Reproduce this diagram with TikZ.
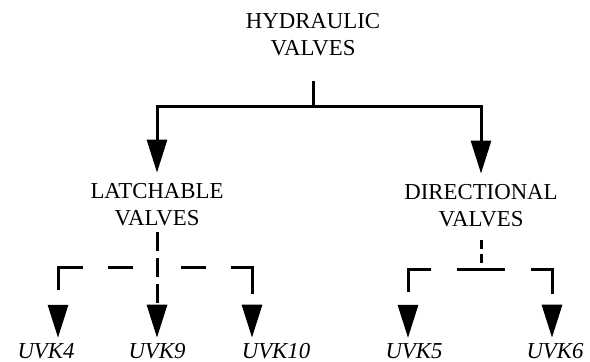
\documentclass[tikz,border=0pt]{standalone}
\usepackage{fontspec}
\setmainfont{Liberation Serif}
\usetikzlibrary{arrows.meta, calc}

\begin{document}
\begin{tikzpicture}[x=1pt, y=-1pt,
    every node/.style={inner sep=0pt, align=center, font=\fontsize{22.8}{27}\selectfont},
    leaf/.style={anchor=base, font=\fontsize{22.8}{27}\selectfont\itshape},
    wire/.style={line width=3pt},
    tip/.style={-{Triangle[length=33pt, width=20pt]}, shorten >=5pt},
    latbranch/.style={dash pattern=on 25pt off 25pt on 48pt off 100pt, dash phase=174pt},
    dirbranch/.style={dash pattern=on 24pt off 26pt on 46pt off 100pt}]

    \useasboundingbox (0,0) rectangle (590,362);

    % 三个分类标题
    \node (hyd) at (313,35)  {HYDRAULIC\\VALVES};
    \node (lat) at (157,205) {LATCHABLE\\VALVES};
    \node (dir) at (481,206) {DIRECTIONAL\\VALVES};

    % 底层阀门编号
    \node[leaf] (uvk4)  at (46,358)  {UVK4};
    \node[leaf] (uvk9)  at (157,358) {UVK9};
    \node[leaf] (uvk10) at (276,358) {UVK10};
    \node[leaf] (uvk5)  at (414,358) {UVK5};
    \node[leaf] (uvk6)  at (555,358) {UVK6};

    % 分支点
    \coordinate (top) at (313,106);
    \coordinate (lj)  at (157,267);
    \coordinate (c4)  at (58,267);
    \coordinate (c10) at (252,267);
    \coordinate (dj)  at (481,269);
    \coordinate (c5)  at (408,269);
    \coordinate (c6)  at (552,269);

    % 1. 顶层实线
    \draw[wire, shorten <=25pt] (hyd) -- (top);
    \draw[wire, tip, shorten >=11pt] (top) -| (lat);
    \draw[wire, tip, shorten >=11pt] (top) -| (dir);

    % 2. LATCHABLE 虚线分支
    \draw[wire, tip, dash pattern=on 19pt off 7pt, shorten <=6pt] (lat) -- (uvk9);
    \draw[wire, tip, latbranch] (lj) -- (c4) -- (c4 |- uvk4.north);
    \draw[wire, tip, latbranch] (lj) -- (c10) -- (c10 |- uvk10.north);

    % 3. DIRECTIONAL 虚线分支
    \draw[wire, dash pattern=on 9pt off 5pt, shorten <=13pt] (dir) -- (dj);
    \draw[wire, tip, dirbranch] (dj) -- (c5) -- (c5 |- uvk5.north);
    \draw[wire, tip, dirbranch] (dj) -- (c6) -- (c6 |- uvk6.north);

\end{tikzpicture}
\end{document}
